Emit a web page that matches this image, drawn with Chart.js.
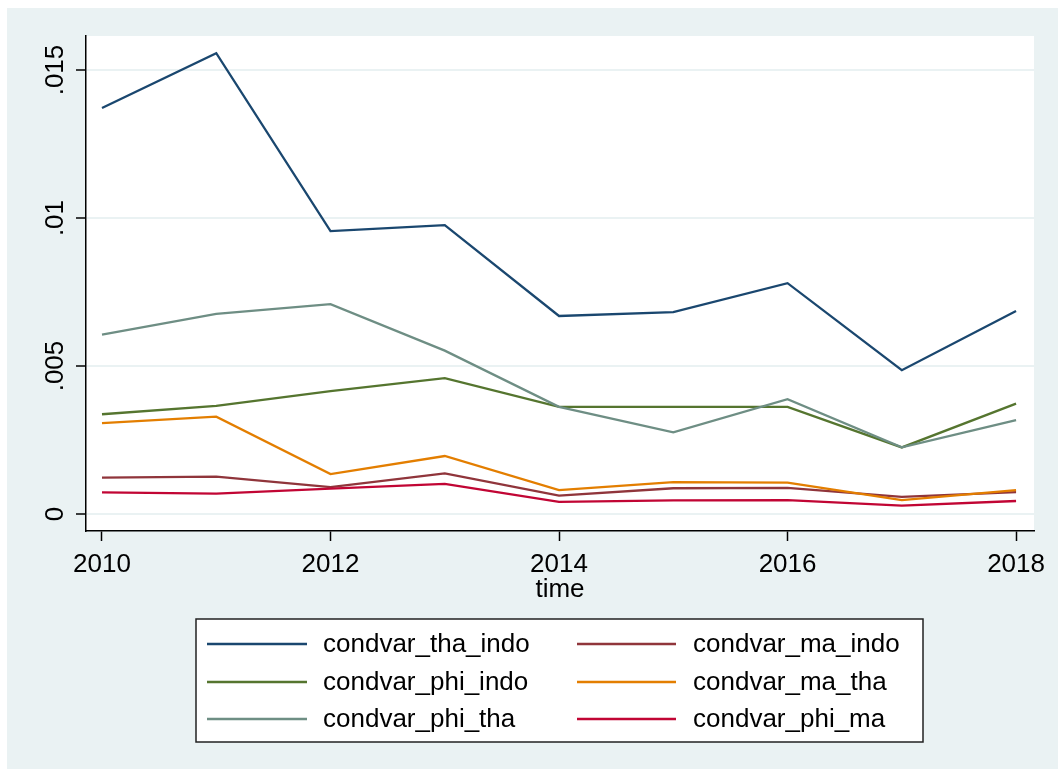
<!DOCTYPE html>
<html>
<head>
<meta charset="utf-8">
<script src="https://cdn.jsdelivr.net/npm/chart.js@4/dist/chart.umd.min.js"></script>
<style>
  html, body { margin: 0; padding: 0; background: #fff; }
  #wrap { width: 1058px; height: 769px; position: relative; }
</style>
</head>
<body>
<div id="wrap"><canvas id="myChart" width="1058" height="769"></canvas></div>
<script>
// data
const years = [2010, 2011, 2012, 2013, 2014, 2015, 2016, 2017, 2018];
const thaIndo = [0.01372, 0.01557, 0.00956, 0.00976, 0.00669, 0.00682, 0.00780, 0.00486, 0.00686];
const phiIndo = [0.00337, 0.00365, 0.00415, 0.00459, 0.00362, 0.00362, 0.00362, 0.00225, 0.00373];
const phiTha  = [0.00606, 0.00676, 0.00709, 0.00552, 0.00362, 0.00276, 0.00388, 0.00225, 0.00317];
const maIndo  = [0.00123, 0.00126, 0.00091, 0.00137, 0.00062, 0.00087, 0.00088, 0.00058, 0.00074];
const maTha   = [0.00307, 0.00329, 0.00135, 0.00196, 0.00081, 0.00108, 0.00106, 0.00047, 0.00081];
const phiMa   = [0.00073, 0.00069, 0.00086, 0.00102, 0.00041, 0.00046, 0.00047, 0.00028, 0.00044];
const seriesNames = ['condvar_tha_indo', 'condvar_phi_indo', 'condvar_phi_tha', 'condvar_ma_indo', 'condvar_ma_tha', 'condvar_phi_ma'];
const xTicks = [2010, 2012, 2014, 2016, 2018];
const yTicks = [0, 0.005, 0.01, 0.015];
const yTickLabels = ['0', '.005', '.01', '.015'];

const colors = ['#1a476f', '#55752f', '#6e8e84', '#90353b', '#e37e00', '#c10534'];
const allSeries = [thaIndo, phiIndo, phiTha, maIndo, maTha, phiMa];
const FAMILY = '"Liberation Sans", Arial, sans-serif';
const FONT = '26px ' + FAMILY;

const datasets = allSeries.map(function(vals, i) {
  return {
    label: seriesNames[i],
    data: years.map(function(y, j) { return { x: y, y: vals[j] }; }),
    borderColor: colors[i],
    backgroundColor: colors[i],
    borderWidth: 2.3,
    pointRadius: 0,
    tension: 0,
    order: allSeries.length - i
  };
});

const backdrop = {
  id: 'backdrop',
  beforeDraw: function(chart) {
    const c = chart.ctx, a = chart.chartArea;
    c.save();
    c.fillStyle = '#fff';
    c.fillRect(0, 0, chart.width, chart.height);
    c.fillStyle = '#eaf2f3';
    c.fillRect(7, 8, chart.width - 7, chart.height - 8);
    c.fillStyle = '#fff';
    c.fillRect(a.left, a.top, a.right - a.left, a.bottom - a.top);
    c.restore();
  }
};

// rotated y tick labels, like the original
const yLabels = {
  id: 'yLabels',
  afterDraw: function(chart) {
    const c = chart.ctx, s = chart.scales.y;
    c.save();
    c.font = FONT;
    c.fillStyle = '#000';
    c.textAlign = 'center';
    c.textBaseline = 'alphabetic';
    yTicks.forEach(function(v, i) {
      c.save();
      c.translate(63, s.getPixelForValue(v));
      c.rotate(-Math.PI / 2);
      c.fillText(yTickLabels[i], 0, 0);
      c.restore();
    });
    c.restore();
  }
};

// two-column legend box, filled column by column
const legendBox = {
  id: 'legendBox',
  afterDraw: function(chart) {
    const c = chart.ctx;
    const bx = 196, by = 619, bw = 727, bh = 123;
    c.save();
    c.fillStyle = '#fff';
    c.fillRect(bx, by, bw, bh);
    c.strokeStyle = '#222';
    c.lineWidth = 1.5;
    c.strokeRect(bx, by, bw, bh);
    c.font = FONT;
    c.textBaseline = 'middle';
    c.textAlign = 'left';
    const rowY = [644, 682, 719];
    const colLine = [[207, 307], [577, 676]];
    const colText = [323, 693];
    chart.data.datasets.forEach(function(ds, i) {
      const col = Math.floor(i / 3), row = i % 3;
      c.strokeStyle = ds.borderColor;
      c.lineWidth = 2.3;
      c.beginPath();
      c.moveTo(colLine[col][0], rowY[row]);
      c.lineTo(colLine[col][1], rowY[row]);
      c.stroke();
      c.fillStyle = '#000';
      c.fillText(ds.label, colText[col], rowY[row] + 1);
    });
    c.restore();
  }
};

const ctx = document.getElementById('myChart').getContext('2d');
const chart = new Chart(ctx, {
  type: 'line',
  data: { datasets: datasets },
  plugins: [backdrop, yLabels, legendBox],
  options: {
    responsive: false,
    animation: false,
    devicePixelRatio: 1,
    layout: { padding: { left: 0, top: 36, right: 24, bottom: 0 } },
    plugins: { legend: { display: false }, tooltip: { enabled: false } },
    scales: {
      x: {
        type: 'linear',
        min: 2009.86,
        max: 2018.157,
        afterBuildTicks: function(scale) {
          scale.ticks = xTicks.map(function(v) { return { value: v }; });
        },
        afterFit: function(scale) { scale.height = 238; },
        grid: { drawOnChartArea: false, drawTicks: true, tickLength: 10, tickColor: '#000', tickWidth: 1.5 },
        border: { color: '#000', width: 1.5 },
        ticks: {
          font: { family: FAMILY, size: 26 },
          color: '#000',
          padding: 8,
          maxRotation: 0,
          autoSkip: false,
          callback: function(v) { return String(v); }
        },
        title: {
          display: true,
          text: 'time',
          color: '#000',
          font: { family: FAMILY, size: 26 },
          padding: { top: 0, bottom: 164 }
        }
      },
      y: {
        min: -0.000574,
        max: 0.01615,
        afterBuildTicks: function(scale) {
          scale.ticks = yTicks.map(function(v) { return { value: v }; });
        },
        afterFit: function(scale) { scale.width = 86; },
        grid: { color: '#eaf2f3', lineWidth: 2, drawTicks: true, tickLength: 10, tickColor: '#000', tickWidth: 1.5 },
        border: { color: '#000', width: 1.5 },
        ticks: { display: false }
      }
    }
  }
});
</script>
</body>
</html>
